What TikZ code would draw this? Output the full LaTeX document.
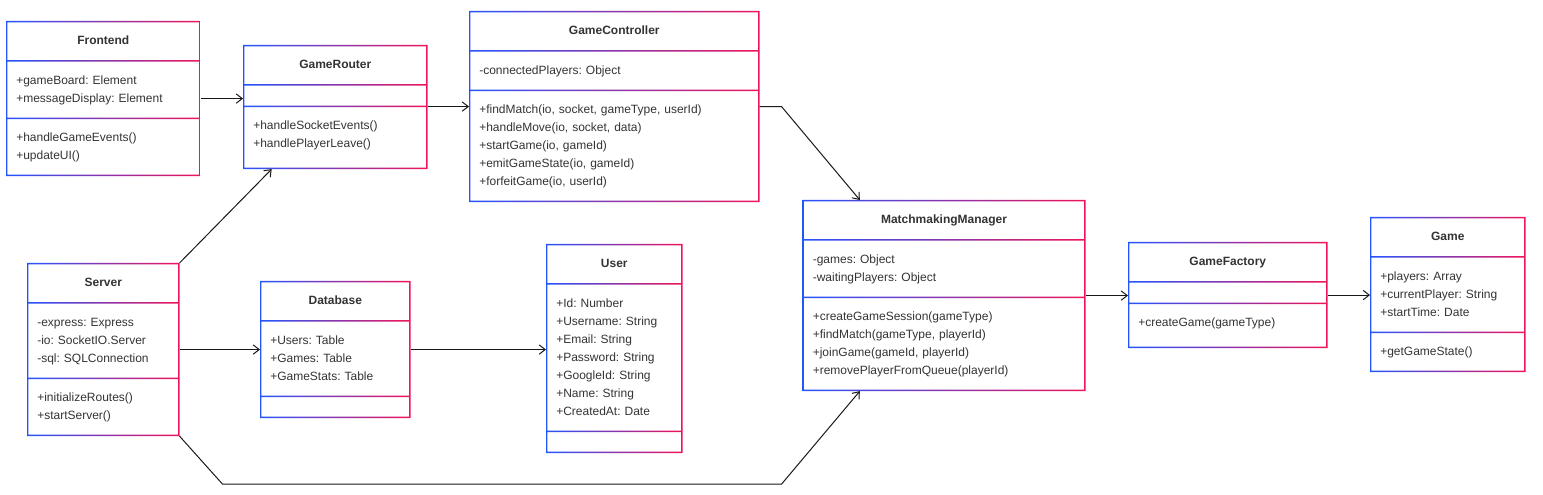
\documentclass[tikz,border=0pt]{standalone}
\usepackage{fontspec}
\setmainfont{Liberation Sans}
\usetikzlibrary{shapes.multipart,arrows.meta}
\definecolor{umlblue}{RGB}{35,85,255}
\definecolor{umlred}{RGB}{240,20,90}
\definecolor{umltext}{RGB}{51,51,51}
% gradient outline + the two compartment lines of a class box
\newcommand{\classframe}[1]{%
  \shade[frameshade, even odd rule]
    (#1.north west) rectangle (#1.south east)
    ([shift={(1.1pt,-1.1pt)}]#1.north west) rectangle ([shift={(-1.1pt,0.55pt)}]#1.text split east)
    ([shift={(1.1pt,-0.55pt)}]#1.text split west) rectangle ([shift={(-1.1pt,0.55pt)}]#1.two split east)
    ([shift={(1.1pt,-0.55pt)}]#1.two split west) rectangle ([shift={(-1.1pt,1.1pt)}]#1.south east);}
\newcommand{\classname}[1]{\makebox[\hsize]{\bfseries\strut#1}}
\newcommand{\tallend}{\rule[-7.8pt]{0pt}{1pt}}

\begin{document}
\frenchspacing
\begin{tikzpicture}[x=0.75pt,y=-0.75pt,
  umlclass/.style={rectangle split, rectangle split parts=3, anchor=north west,
    inner xsep=7.5pt, inner ysep=7.875pt, text width=#1, align=left, text=umltext,
    font=\fontsize{9pt}{13.5pt}\selectfont,
    rectangle split empty part height=0pt, rectangle split empty part depth=0pt},
  frameshade/.style={left color=umlblue, right color=umlred},
  assoc/.style={draw=black!90, line width=0.75pt, -{Straight Barb[length=4.5pt,width=7pt]}}]
\useasboundingbox (0,0) rectangle (1543,495);

\node[umlclass=130.5pt] (frontend) at (6,21) {\classname{Frontend}
  \nodepart{two}\strut +gameBoard: Element\\\strut +messageDisplay: Element
  \nodepart{three}\strut +handleGameEvents()\\\strut +updateUI()};
\node[umlclass=123pt] (router) at (243,45) {\classname{GameRouter}
  \nodepart{two}
  \nodepart{three}\strut +handleSocketEvents()\\\strut +handlePlayerLeave()\tallend};
\node[umlclass=202.5pt] (controller) at (469,11) {\classname{GameController}
  \nodepart{two}\strut -connectedPlayers: Object
  \nodepart{three}\strut +findMatch(io, socket, gameType, userId)\\\strut +handleMove(io, socket, data)\\\strut +startGame(io, gameId)\\\strut +emitGameState(io, gameId)\\\strut +forfeitGame(io, userId)};
\node[umlclass=99pt] (server) at (27,263) {\classname{Server}
  \nodepart{two}\strut -express: Express\\\strut -io: SocketIO.Server\\\strut -sql: SQLConnection
  \nodepart{three}\strut +initializeRoutes()\\\strut +startServer()};
\node[umlclass=97.5pt] (database) at (260,281) {\classname{Database}
  \nodepart{two}\strut +Users: Table\\\strut +Games: Table\\\strut +GameStats: Table
  \nodepart{three}};
\node[umlclass=87pt] (user) at (546,244) {\classname{User}
  \nodepart{two}\strut +Id: Number\\\strut +Username: String\\\strut +Email: String\\\strut +Password: String\\\strut +GoogleId: String\\\strut +Name: String\\\strut +CreatedAt: Date
  \nodepart{three}};
\node[umlclass=196.9pt] (matchmaker) at (802.5,200) {\classname{MatchmakingManager}
  \nodepart{two}\strut -games: Object\\\strut -waitingPlayers: Object
  \nodepart{three}\strut +createGameSession(gameType)\\\strut +findMatch(gameType, playerId)\\\strut +joinGame(gameId, playerId)\\\strut +removePlayerFromQueue(playerId)};
\node[umlclass=134.25pt] (factory) at (1128,242) {\classname{GameFactory}
  \nodepart{two}
  \nodepart{three}\strut +createGame(gameType)\tallend};
\node[umlclass=101.25pt] (game) at (1370,217) {\classname{Game}
  \nodepart{two}\strut +players: Array\\\strut +currentPlayer: String\\\strut +startTime: Date
  \nodepart{three}\strut +getGameState()};

\foreach \c in {frontend,router,controller,server,database,user,matchmaker,factory,game}
  \classframe{\c};

\draw[assoc] (frontend.east) -- (frontend.east -| router.west);
\draw[assoc] (router.east |- controller.west) -- (controller.west);
\draw[assoc] (controller.east) -- ++(22,0) -- ([xshift=43pt]matchmaker.north west);
\draw[assoc] (server.north east) -- ([xshift=21.5pt]router.south west);
\draw[assoc] (server.east) -- (server.east -| database.west);
\draw[assoc] (database.east) -- (database.east -| user.west);
\draw[assoc] (server.south east) -- ++(43,48) -- ++(559,0) -- ([xshift=43pt]matchmaker.south west);
\draw[assoc] (matchmaker.east) -- (matchmaker.east -| factory.west);
\draw[assoc] (factory.east) -- (factory.east -| game.west);
\end{tikzpicture}
\end{document}
